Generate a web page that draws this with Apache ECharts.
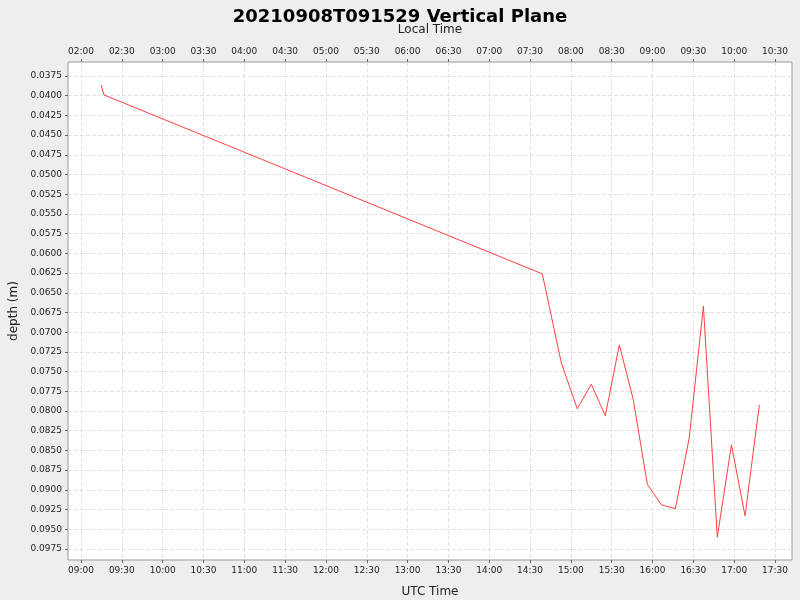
<!DOCTYPE html>
<html><head><meta charset="utf-8">
<script src="https://cdn.jsdelivr.net/npm/echarts@6/dist/echarts.min.js"></script>
<style>html,body{margin:0;background:#eeeeee}#c{width:800px;height:600px}</style>
</head><body><div id="c"></div>
<script>
// UTC time as minutes after midnight
const times = [554.7, 556.9, 879, 893, 904.7, 915, 925.3, 935.6, 945.9, 956.2, 966.5, 976.8, 987, 997.4, 1007.6, 1018, 1028, 1038.5];
const depths = [0.03864, 0.0399, 0.0626, 0.0739, 0.0797, 0.0766, 0.0806, 0.0716, 0.0786, 0.0893, 0.0919, 0.0924, 0.0834, 0.0667, 0.0960, 0.0843, 0.0933, 0.0792];
const xTicks = [];
for (let m = 540; m <= 1050; m += 30) xTicks.push(m);
const yTicks = [];
for (let i = 0; i <= 24; i++) yTicks.push(+(0.0375 + i * 0.0025).toFixed(4));
const localOffset = -420;
function hm(m){m=((m%1440)+1440)%1440;const h=Math.floor(m/60),mi=Math.round(m%60);return String(h).padStart(2,'0')+':'+String(mi).padStart(2,'0');}
const xMin = 530.43, xMax = 1062.5;
const ch = echarts.init(document.getElementById('c'));
const axisCommon = {
  type:'value', min:xMin, max:xMax,
  axisLine:{show:false},
  axisTick:{show:true,customValues:xTicks,length:3,lineStyle:{color:'#666'}},
  splitLine:{show:true,lineStyle:{type:'dashed',color:'#e2e2e2'}},
  nameLocation:'middle',
  nameTextStyle:{fontSize:12,color:'#222',fontFamily:'DejaVu Sans'}
};
ch.setOption({
  backgroundColor:'#eeeeee',
  animation:false,
  title:{text:'20210908T091529 Vertical Plane',left:'center',top:3,textStyle:{fontSize:18,fontWeight:'bold',color:'#000',fontFamily:'DejaVu Sans'}},
  grid:{left:68,right:8,top:62,bottom:40,outerBoundsMode:'none',containLabel:false,show:true,backgroundColor:'#fff',borderColor:'#999',borderWidth:1},
  xAxis:[
    Object.assign({},axisCommon,{position:'bottom',name:'UTC Time',nameGap:26,
      axisLabel:{customValues:xTicks,formatter:v=>hm(v),fontSize:9,color:'#222',fontFamily:'DejaVu Sans',margin:6}}),
    Object.assign({},axisCommon,{position:'top',name:'Local Time',nameGap:26,splitLine:{show:false},
      axisLabel:{customValues:xTicks,formatter:v=>hm(v+localOffset),fontSize:9,color:'#222',fontFamily:'DejaVu Sans',margin:6}})
  ],
  yAxis:{type:'value',inverse:true,min:0.03572,max:0.0989,name:'depth (m)',nameLocation:'middle',nameGap:46,
    nameTextStyle:{fontSize:12,color:'#222',fontFamily:'DejaVu Sans'},
    axisLine:{show:false},
    axisTick:{show:true,customValues:yTicks,length:3,lineStyle:{color:'#666'}},
    axisLabel:{customValues:yTicks,formatter:v=>v.toFixed(4),fontSize:9,color:'#222',fontFamily:'DejaVu Sans',margin:6},
    splitLine:{show:true,lineStyle:{type:'dashed',color:'#e2e2e2'}}},
  series:[{type:'line',xAxisIndex:0,data:times.map((t,i)=>[t,depths[i]]),showSymbol:false,
    lineStyle:{color:'#ff4040',width:1},itemStyle:{color:'#ff4040'}}]
});
</script></body></html>
